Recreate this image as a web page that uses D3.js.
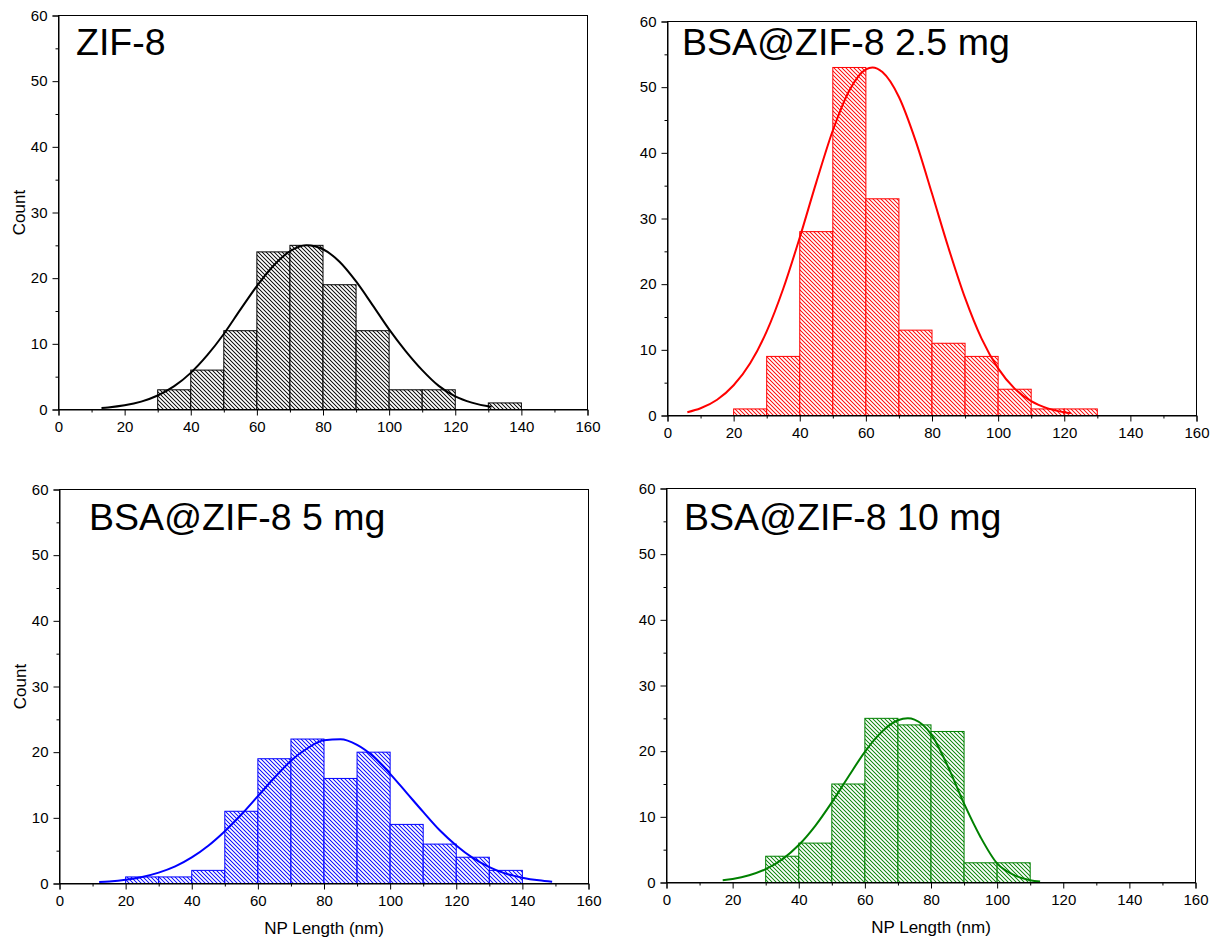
<!DOCTYPE html>
<html>
<head>
<meta charset="utf-8">
<script src="https://cdn.jsdelivr.net/npm/d3@7"></script>
<style>
  html, body { margin: 0; padding: 0; background: #fff; }
  svg { display: block; }
  text { font-family: "Liberation Sans", Arial, sans-serif; fill: #000; }
</style>
</head>
<body>
<svg id="chart" width="1222" height="945"></svg>
<script>
// Axis ticks shared by all four histograms
const xTickValues = [0, 20, 40, 60, 80, 100, 120, 140, 160];
const yTickValues = [0, 10, 20, 30, 40, 50, 60];
const xMinorValues = [10, 30, 50, 70, 90, 110, 130, 150];
const yMinorValues = [5, 15, 25, 35, 45, 55];

// Panel titles
const sampleNames = ["ZIF-8", "BSA@ZIF-8 2.5 mg", "BSA@ZIF-8 5 mg", "BSA@ZIF-8 10 mg"];

// Histogram bins (lower edge, nm) and counts
const zif8Bins   = [30, 40, 50, 60, 70, 80, 90, 100, 110, 120, 130];
const zif8Counts = [3, 6, 12, 24, 25, 19, 12, 3, 3, 0, 1];

const bsa25Bins   = [20, 30, 40, 50, 60, 70, 80, 90, 100, 110, 120];
const bsa25Counts = [1, 9, 28, 53, 33, 13, 11, 9, 4, 1, 1];

const bsa5Bins   = [20, 30, 40, 50, 60, 70, 80, 90, 100, 110, 120, 130];
const bsa5Counts = [1, 1, 2, 11, 19, 22, 16, 20, 9, 6, 4, 2];

const bsa10Bins   = [30, 40, 50, 60, 70, 80, 90, 100];
const bsa10Counts = [4, 6, 15, 25, 24, 23, 3, 3];

// Normal-distribution fit curves (length nm, count)
const zif8FitX = [13, 15, 20, 25, 30, 35, 40, 45, 50, 55, 60, 65, 70, 75, 80, 85, 90, 95, 100, 105, 110, 115, 120, 125, 130, 131];
const zif8FitY = [0.24, 0.32, 0.64, 1.2, 2.13, 3.55, 5.58, 8.27, 11.5, 15.2, 18.8, 21.9, 24.1, 25.0, 24.4, 22.5, 19.5, 15.9, 12.2, 8.9, 6.0, 3.6, 2.0, 1.05, 0.5, 0.45];

const bsa25FitX = [6, 10, 15, 20, 25, 30, 35, 40, 45, 50, 55, 60, 62, 65, 70, 75, 80, 85, 90, 95, 100, 105, 110, 115, 120, 122];
const bsa25FitY = [0.5, 1.1, 2.4, 4.6, 7.96, 12.8, 19.3, 27.1, 35.5, 43.4, 49.5, 52.7, 53.0, 52.3, 48.5, 41.9, 33.8, 25.5, 17.9, 11.7, 7.17, 4.09, 2.18, 1.08, 0.5, 0.36];

const bsa5FitX = [12, 15, 20, 25, 30, 35, 40, 45, 50, 55, 60, 65, 70, 75, 80, 85, 90, 95, 100, 105, 110, 115, 120, 125, 130, 135, 140, 145, 149];
const bsa5FitY = [0.21, 0.31, 0.57, 0.99, 1.65, 2.6, 3.97, 5.75, 7.96, 10.5, 13.3, 16.1, 18.7, 20.6, 21.8, 21.95, 21.1, 19.3, 16.7, 13.8, 10.9, 8.1, 5.8, 3.9, 2.5, 1.5, 0.89, 0.48, 0.26];

const bsa10FitX = [17, 20, 25, 30, 35, 40, 45, 50, 55, 60, 65, 70, 73, 75, 80, 85, 90, 95, 100, 105, 110, 113];
const bsa10FitY = [0.36, 0.55, 1.1, 2.03, 3.52, 5.7, 8.63, 12.2, 16.1, 19.9, 22.9, 24.7, 25.0, 24.8, 22.6, 17.8, 12.0, 6.9, 2.9, 1.15, 0.35, 0.15];

const seriesColors = ["#000000", "#ff0000", "#0000ff", "#008000"];

// Frame geometry of each panel
const panelWidth = 529, panelHeight = 394;
const panels = [
  { left: 58.5,  top: 15.5,  titleDx: 17.5, titleDy: 39.5, yTitle: true,  xTitle: false,
    bins: zif8Bins,  counts: zif8Counts,  fitX: zif8FitX,  fitY: zif8FitY },
  { left: 667.5, top: 21.5,  titleDx: 14.5, titleDy: 33,   yTitle: false, xTitle: false,
    bins: bsa25Bins, counts: bsa25Counts, fitX: bsa25FitX, fitY: bsa25FitY },
  { left: 59.5,  top: 489.5, titleDx: 29.5, titleDy: 40,   yTitle: true,  xTitle: true,
    bins: bsa5Bins,  counts: bsa5Counts,  fitX: bsa5FitX,  fitY: bsa5FitY },
  { left: 666.5, top: 488.5, titleDx: 17.5, titleDy: 41,   yTitle: false, xTitle: true,
    bins: bsa10Bins, counts: bsa10Counts, fitX: bsa10FitX, fitY: bsa10FitY }
];

const svg = d3.select("#chart");
const defs = svg.append("defs");

// Diagonal hatch ("\\\"), 4 px apart horizontally so the lines stay pixel-regular
const hatchStep = 4 / Math.SQRT2;
seriesColors.forEach((c, i) => {
  const p = defs.append("pattern")
    .attr("id", "hatch" + i)
    .attr("patternUnits", "userSpaceOnUse")
    .attr("width", hatchStep).attr("height", hatchStep)
    .attr("patternTransform", "rotate(-45)");
  p.append("rect").attr("width", hatchStep).attr("height", hatchStep).attr("fill", "#fff");
  p.append("line")
    .attr("x1", hatchStep / 2).attr("y1", 0).attr("x2", hatchStep / 2).attr("y2", hatchStep)
    .attr("stroke", c).attr("stroke-width", 0.85);
});

panels.forEach((pn, i) => {
  const color = seriesColors[i];
  const x = d3.scaleLinear().domain([0, 160]).range([pn.left, pn.left + panelWidth]);
  const y = d3.scaleLinear().domain([0, 60]).range([pn.top + panelHeight, pn.top]);
  const g = svg.append("g");

  // histogram bars
  const bars = pn.bins.map((b, k) => ({ x0: b, x1: b + 10, n: pn.counts[k] })).filter(d => d.n > 0);
  g.append("g").selectAll("rect").data(bars).join("rect")
    .attr("x", d => x(d.x0))
    .attr("y", d => y(d.n))
    .attr("width", d => x(d.x1) - x(d.x0))
    .attr("height", d => y(0) - y(d.n))
    .attr("fill", `url(#hatch${i})`)
    .attr("stroke", color)
    .attr("stroke-width", 1);

  // fit curve
  const pts = pn.fitX.map((v, k) => [v, pn.fitY[k]]);
  g.append("path")
    .datum(pts)
    .attr("fill", "none")
    .attr("stroke", color)
    .attr("stroke-width", 2)
    .attr("d", d3.line().x(d => x(d[0])).y(d => y(d[1])).curve(d3.curveMonotoneX));

  // frame
  g.append("rect")
    .attr("x", pn.left).attr("y", pn.top)
    .attr("width", panelWidth).attr("height", panelHeight)
    .attr("fill", "none").attr("stroke", "#000").attr("stroke-width", 1);

  // bottom axis
  const xAxis = g.append("g").attr("transform", `translate(0,${pn.top + panelHeight})`)
    .call(d3.axisBottom(x).tickValues(xTickValues).tickSize(6).tickPadding(6).tickFormat(d3.format("d")));
  g.append("g").attr("transform", `translate(0,${pn.top + panelHeight})`)
    .call(d3.axisBottom(x).tickValues(xMinorValues).tickSize(3).tickFormat(""))
    .call(a => a.select(".domain").remove());

  // left axis
  const yAxis = g.append("g").attr("transform", `translate(${pn.left},0)`)
    .call(d3.axisLeft(y).tickValues(yTickValues).tickSize(6).tickPadding(5).tickFormat(d3.format("d")));
  g.append("g").attr("transform", `translate(${pn.left},0)`)
    .call(d3.axisLeft(y).tickValues(yMinorValues).tickSize(3).tickFormat(""))
    .call(a => a.select(".domain").remove());

  [xAxis, yAxis].forEach(a => {
    a.selectAll("text").attr("font-size", 15).attr("font-family", '"Liberation Sans", Arial, sans-serif').attr("fill", "#000");
    a.selectAll("line").attr("stroke", "#000");
    a.select(".domain").attr("stroke", "#000");
  });

  // panel title
  g.append("text")
    .attr("x", pn.left + pn.titleDx)
    .attr("y", pn.top + pn.titleDy)
    .attr("font-size", 37.5)
    .text(sampleNames[i]);

  if (pn.yTitle) {
    g.append("text")
      .attr("transform", `translate(${pn.left - 34},${pn.top + panelHeight / 2}) rotate(-90)`)
      .attr("text-anchor", "middle")
      .attr("font-size", 17)
      .text("Count");
  }
  if (pn.xTitle) {
    g.append("text")
      .attr("x", pn.left + panelWidth / 2)
      .attr("y", pn.top + panelHeight + 50)
      .attr("text-anchor", "middle")
      .attr("font-size", 17)
      .text("NP Length (nm)");
  }
});
</script>
</body>
</html>
